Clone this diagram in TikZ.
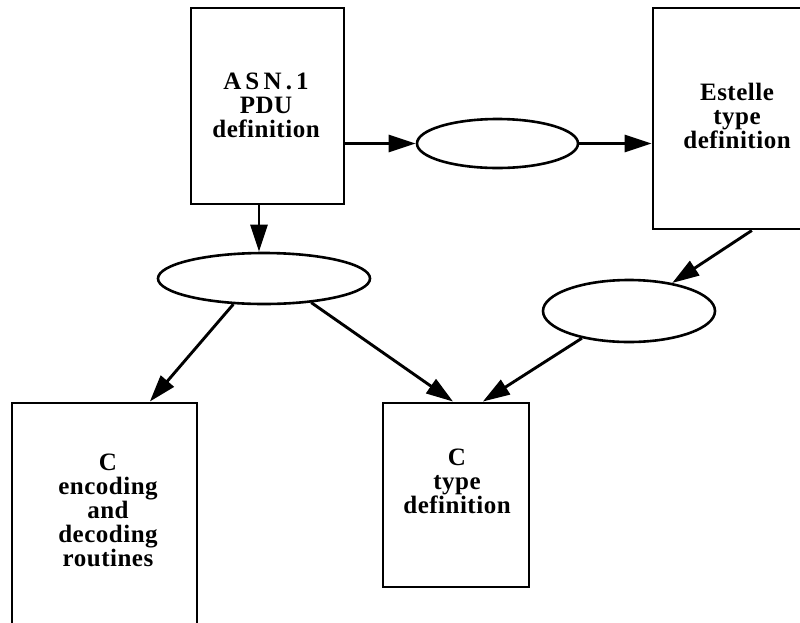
\documentclass[tikz,border=0pt]{standalone}
\usepackage{fontspec}
\setmainfont{Liberation Serif}[LetterSpace=2]
\usetikzlibrary{arrows.meta,shapes.geometric,calc}
\begin{document}
\begin{tikzpicture}[x=1pt,y=-1pt,
  box/.style={draw,rectangle,line width=2.9pt,inner sep=0pt},
  oval/.style={draw,ellipse,line width=2.6pt,inner sep=0pt},
  lbl/.style={align=center,inner sep=0pt,anchor=north,
    font=\bfseries\fontsize{25}{24}\selectfont},
  arr/.style={line width=2.9pt,-{Triangle[length=27pt,width=17pt]}}]
\useasboundingbox (0,0) rectangle (800,622);
% boxes
\node[box,minimum width=153pt,minimum height=196pt] (asn) at (267.5,106) {};
\node[box,minimum width=168pt,minimum height=221pt] (est) at (737,118.5) {};
\node[box,minimum width=185pt,minimum height=254pt] (enc) at (104.5,530) {};
\node[box,minimum width=146pt,minimum height=184pt] (ctype) at (456,495) {};
% ellipses
\node[oval,minimum width=161pt,minimum height=49pt] (e1) at (497.5,143.5) {};
\node[oval,minimum width=212pt,minimum height=51pt] (e2) at (264,278.5) {};
\node[oval,minimum width=172pt,minimum height=62pt] (e3) at (629,311) {};
% labels
\node[lbl] (tasn) at (266,73) {A\,S\,N\,.\,1\\PDU\\definition};
\node[lbl] (test) at (737,83) {Estelle\\type\\definition};
\node[lbl] (tenc) at (108,454) {C\\encoding\\and\\decoding\\routines};
\node[lbl] (tctype) at (457,449) {C\\type\\definition};
% connectors
\draw[arr] ([xshift=-8.5pt]asn.south) -- ([xshift=-5pt]e2.north);
\draw[arr] (asn.east |- e1.west) -- (e1.west);
\draw[arr] (e1.east) -- (est.west |- e1.east);
\draw[arr] (e2.220.5) -- ($(enc.north west)+(139.3,0)$);
\draw[arr] (e2.333) -- ($(ctype.north west)+(71.5,0)$);
\draw[arr] ($(est.south west)+(100.3,0)$) -- (e3.33.4);
\draw[arr] (e3.210.4) -- ($(ctype.north west)+(101.3,0)$);
\end{tikzpicture}
\end{document}
